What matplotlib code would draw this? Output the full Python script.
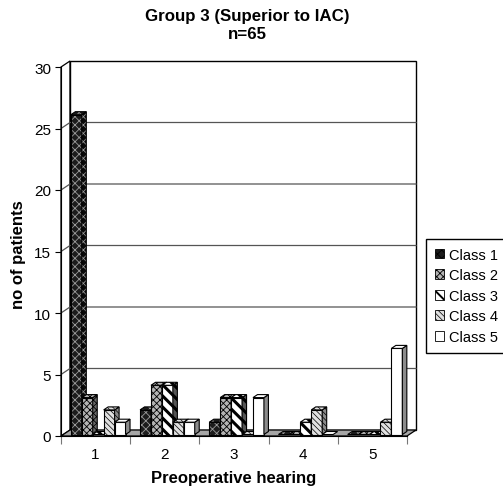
import matplotlib
matplotlib.use("Agg")
import matplotlib.pyplot as plt
from matplotlib.patches import Polygon, Patch

plt.rcParams['font.family'] = ['Liberation Sans', 'DejaVu Sans']

# patients per preoperative hearing grade, one list per outcome class
hearing = ['1', '2', '3', '4', '5']
classes = ['Class 1', 'Class 2', 'Class 3', 'Class 4', 'Class 5']
class1 = [26, 2, 1, 0, 0]
class2 = [3, 4, 3, 0, 0]
class3 = [0, 4, 3, 1, 0]
class4 = [2, 1, 0, 2, 1]
class5 = [1, 1, 3, 0, 7]
counts = [class1, class2, class3, class4, class5]
yticks = [0, 5, 10, 15, 20, 25, 30]

# face colour, hatch colour, hatch, hatch line width
styles = [
    ('#1c1c1c', '#9a9a9a', 'xxxx', 0.6),
    ('#b4b4b4', '#000000', 'xxxxx', 0.6),
    ('#ffffff', '#000000', '\\\\\\', 2.2),
    ('#e0e0e0', '#000000', '\\\\\\\\\\\\', 0.5),
    ('#ffffff', '#000000', '', 0.5),
]
side_shade = ['#0a0a0a', '#6a6a6a', '#555555', '#8a8a8a', '#8c8c8c']

W, H = 503, 489
fig = plt.figure(figsize=(W / 100, H / 100), dpi=100)
# front plane of the box in pixels: x 61..407, y 437 (0) .. 68 (30)
left, right, bottom, top = 61, 407, 437, 68
ax = fig.add_axes([left / W, 1 - bottom / H, (right - left) / W, (bottom - top) / H])
ax.set_xlim(0, 5)
ax.set_ylim(0, 30)
ax.patch.set_visible(False)

px_x = 5 / (right - left)
px_y = 30 / (bottom - top)
dx, dy = 9 * px_x, 6 * px_y          # wall depth
fx, fy = 0.25 * dx, 0.25 * dy        # bar offset from front
bx, by = 0.5 * dx, 0.5 * dy          # bar depth
w = 0.158
start = 0.11


def poly(pts, z, **kw):
    p = Polygon(pts, closed=True, clip_on=False, zorder=z, **kw)
    ax.add_patch(p)
    return p


def shaded(pts, z, fc, hc, hatch, hlw):
    p = poly(pts, z, facecolor=fc, edgecolor=hc, hatch=hatch, lw=0)
    if hasattr(p, 'set_hatch_linewidth'):
        p.set_hatch_linewidth(hlw)
    poly(pts, z, fill=False, edgecolor='black', lw=0.8)


# walls and floor
poly([(0, 0), (0, 30), (dx, 30 + dy), (dx, dy)], 0.1, facecolor='white', edgecolor='black', lw=0.9)
poly([(dx, dy), (dx, 30 + dy), (5 + dx, 30 + dy), (5 + dx, dy)], 0.1, facecolor='white', edgecolor='black', lw=1.0)
for v in yticks[1:-1]:
    ax.plot([0, dx, 5 + dx], [v, v + dy, v + dy], color='#555555', lw=0.9, zorder=0.2, clip_on=False)
poly([(0, 0), (5, 0), (5 + dx, dy), (dx, dy)], 0.3, facecolor='#a6a6a6', edgecolor='black', lw=0.9)

# bars
z = 1
for g in range(len(hearing)):
    for k in range(len(classes)):
        v = counts[k][g]
        fc, hc, hatch, hlw = styles[k]
        x0 = g + start + k * w + fx
        x1 = x0 + w
        y0 = fy
        if v > 0:
            shaded([(x0, y0), (x1, y0), (x1, v + y0), (x0, v + y0)], z, fc, hc, hatch, hlw)
            shaded([(x1, y0), (x1 + bx, y0 + by), (x1 + bx, v + y0 + by), (x1, v + y0)], z,
                   side_shade[k], hc, hatch, hlw)
        shaded([(x0, v + y0), (x1, v + y0), (x1 + bx, v + y0 + by), (x0 + bx, v + y0 + by)], z,
               fc, hc, hatch, hlw)
        z += 0.01

# axes
for s in ['top', 'right']:
    ax.spines[s].set_visible(False)
ax.spines['left'].set_bounds(0, 30)
ax.spines['bottom'].set_bounds(0, 5)
ax.spines['left'].set_zorder(5)
ax.spines['bottom'].set_zorder(5)
ax.set_yticks(yticks)
ax.set_xticks([g + 0.5 for g in range(len(hearing))])
ax.set_xticklabels(hearing)
ax.set_xticks(range(len(hearing) + 1), minor=True)
ax.tick_params(axis='y', length=4, width=0.8, labelsize=11, pad=3)
ax.tick_params(axis='x', which='major', length=0, labelsize=11, pad=8)
ax.tick_params(axis='x', which='minor', length=6, width=0.8, color='#777777')

ax.set_ylabel('no of patients', fontsize=12, fontweight='bold')
ax.yaxis.set_label_coords(-0.1, 0.493)
ax.set_xlabel('Preoperative hearing', fontsize=12, fontweight='bold')
ax.xaxis.set_label_coords(0.5, -0.093)

fig.text(247 / W, 1 - 9 / H, 'Group 3 (Superior to IAC)\nn=65', ha='center', va='top',
         fontsize=12.2, fontweight='bold', linespacing=1.25)

handles = [Patch(facecolor=s[0], edgecolor='black', hatch=s[2], lw=0.6) for s in styles]
leg = fig.legend(handles, classes, loc='upper left', bbox_to_anchor=(426 / W, 1 - 240 / H),
                 fontsize=10.5, frameon=True, fancybox=False, edgecolor='black', framealpha=1,
                 handlelength=0.65, handleheight=0.65, handletextpad=0.35, labelspacing=0.45,
                 borderpad=0.6, borderaxespad=0)
for h, s in zip(leg.get_patches(), styles):
    if hasattr(h, 'set_hatch_linewidth'):
        h.set_hatch_linewidth(min(s[3], 1.4))

fig.savefig('out.png', dpi=100)
